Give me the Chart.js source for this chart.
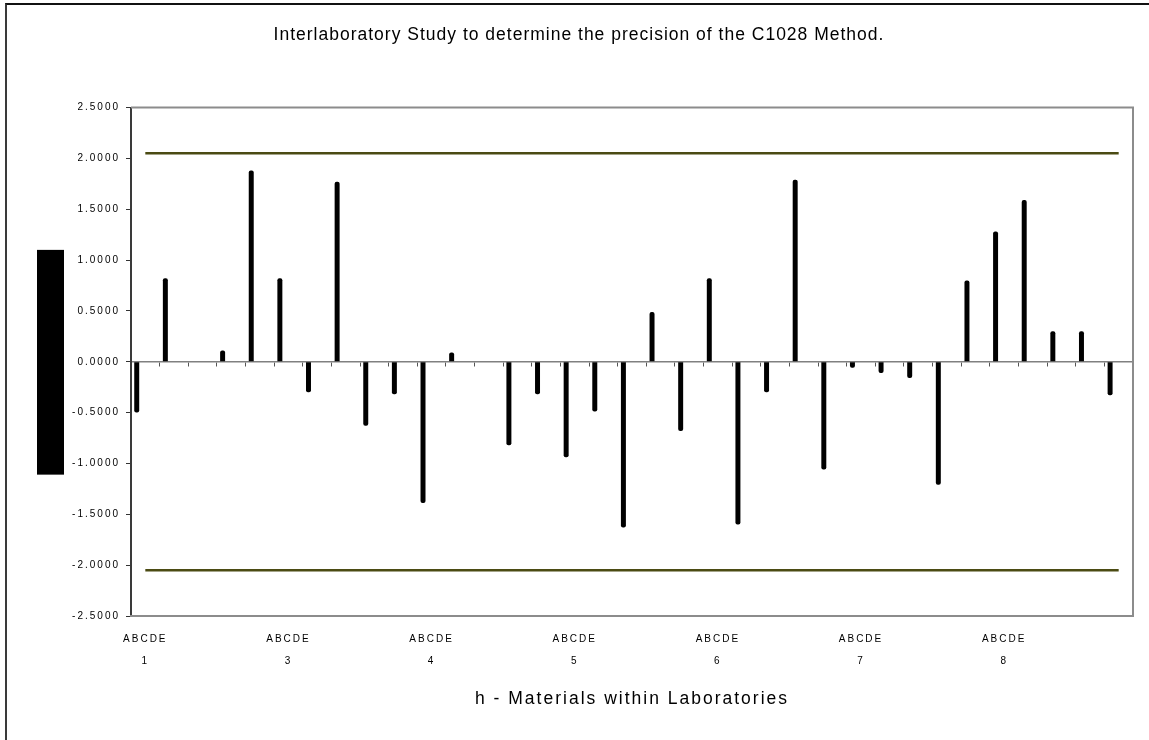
<!DOCTYPE html>
<html><head><meta charset="utf-8">
<script src="https://cdn.jsdelivr.net/npm/chart.js@4.4.0/dist/chart.umd.min.js"></script>
<style>
html,body{margin:0;padding:0;background:#fff;overflow:hidden;width:1149px;height:740px}
#frame{position:absolute;left:5px;top:3px;width:1300px;height:900px;border-top:2px solid #111;border-left:2px solid #3a3a3a}
#wrap{position:absolute;left:0;top:0;width:1149px;height:740px}
</style></head><body>
<div id="frame"></div>
<div id="wrap"><canvas id="c" width="1149" height="740"></canvas></div>
<script>
const labs = ['1','3','4','5','6','7','8'];
const materials = ['A','B','C','D','E'];
const hValues = [
  -0.50, 0.82, 0.00, 0.11, 1.88, 0.82, -0.30, 1.77, -0.63, -0.32,
  -1.39, 0.09, 0.00, -0.82, -0.32, -0.94, -0.49, -1.63, 0.49, -0.68,
   0.82, -1.60, -0.30, 1.79, -1.06, -0.06, -0.11, -0.16, -1.21, 0.80,
   1.28, 1.59, 0.30, 0.30, -0.33
];
const upperLimit = [2.05,2.05,2.05,2.05,2.05,2.05,2.05,2.05,2.05,2.05,2.05,2.05,2.05,2.05,2.05,2.05,2.05,2.05,2.05,2.05,2.05,2.05,2.05,2.05,2.05,2.05,2.05,2.05,2.05,2.05,2.05,2.05,2.05,2.05,2.05];
const lowerLimit = [-2.05,-2.05,-2.05,-2.05,-2.05,-2.05,-2.05,-2.05,-2.05,-2.05,-2.05,-2.05,-2.05,-2.05,-2.05,-2.05,-2.05,-2.05,-2.05,-2.05,-2.05,-2.05,-2.05,-2.05,-2.05,-2.05,-2.05,-2.05,-2.05,-2.05,-2.05,-2.05,-2.05,-2.05,-2.05];
const yMin = -2.5, yMax = 2.5, yStep = 0.5;
const titleText = 'Interlaboratory Study to determine the precision of the C1028 Method.';
const xTitleText = 'h - Materials within Laboratories';

const categories = [];
labs.forEach(l => materials.forEach(m => categories.push(l + m)));

const FAMILY = '"Liberation Sans", Arial, sans-serif';

const spacingPlugin = {
  id: 'spacing',
  beforeDraw(chart) { chart.ctx.letterSpacing = '1px'; },
  afterDatasetsDraw(chart) { chart.ctx.letterSpacing = '2px'; }
};
const framePlugin = {
  id: 'frameBox',
  beforeDatasetsDraw(chart) {
    const ctx = chart.ctx, a = chart.chartArea, ys = chart.scales.y;
    ctx.save();
    ctx.strokeStyle = '#8c8c8c';
    ctx.lineWidth = 2;
    ctx.beginPath();
    ctx.moveTo(a.left, a.top);
    ctx.lineTo(a.right, a.top);
    ctx.lineTo(a.right, a.bottom);
    ctx.stroke();
    // the solid black y-axis title block of the original
    const t = ys.getPixelForValue(1.10), b = ys.getPixelForValue(-1.11);
    ctx.fillStyle = '#000';
    ctx.fillRect(a.left - 94, t, 27, b - t);
    ctx.restore();
  }
};

new Chart(document.getElementById('c'), {
  data: {
    labels: categories,
    datasets: [
      { type: 'bar', data: hValues, backgroundColor: '#000', borderWidth: 0, borderRadius: 2,
        barPercentage: 0.58, categoryPercentage: 0.9, order: 2 },
      { type: 'bar', data: [], backgroundColor: '#000', barPercentage: 0.58, categoryPercentage: 0.9, order: 2 },
      { type: 'bar', data: [], backgroundColor: '#000', barPercentage: 0.58, categoryPercentage: 0.9, order: 2 },
      { type: 'line', data: upperLimit, borderColor: '#4b4b13', borderWidth: 2.5, pointRadius: 0, fill: false, order: 1 },
      { type: 'line', data: lowerLimit, borderColor: '#4b4b13', borderWidth: 2.5, pointRadius: 0, fill: false, order: 1 }
    ]
  },
  options: {
    responsive: false,
    animation: false,
    devicePixelRatio: 1,
    layout: { padding: { left: 25, right: 16, top: 0, bottom: 0 } },
    plugins: {
      legend: { display: false },
      tooltip: { enabled: false },
      title: { display: true, text: titleText, color: '#000',
        font: { family: FAMILY, size: 17.5, weight: 'normal', lineHeight: 1.2 },
        padding: { top: 24.5, bottom: 62 } }
    },
    scales: {
      x: {
        type: 'category', offset: true,
        grid: { display: false, drawTicks: false, tickLength: 0, offset: true, z: 1 },
        border: { display: true, color: '#8c8c8c', width: 2, z: 2 },
        ticks: { autoSkip: false, maxRotation: 0, minRotation: 0, padding: 12, color: '#000', z: 1,
          font: { family: FAMILY, size: 10, lineHeight: 2.2 },
          callback: (v, i) => i % materials.length === 0 ? [materials.join(''), labs[i / materials.length]] : '' },
        title: { display: true, text: xTitleText, color: '#000',
          font: { family: FAMILY, size: 17.5, lineHeight: 1.2 }, padding: { top: 5, bottom: 30 } }
      },
      x2: {
        type: 'category', position: { y: 0 }, offset: true,
        grid: { display: true, offset: true, drawOnChartArea: false, drawTicks: true, tickLength: 4, color: '#555', lineWidth: 1 },
        border: { display: true, color: '#808080', width: 1.5 },
        ticks: { display: false }
      },
      y: {
        min: yMin, max: yMax,
        ticks: { stepSize: yStep, callback: v => Number(v).toFixed(4), padding: 6, color: '#000', z: 1,
          font: { family: FAMILY, size: 10 } },
        grid: { display: true, drawOnChartArea: false, drawTicks: true, tickLength: 5, color: '#333' },
        border: { display: true, color: '#3a3a3a', width: 2 },
        afterFit(s) { s.width = 106; }
      }
    }
  },
  plugins: [spacingPlugin, framePlugin]
});
</script>
</body></html>
